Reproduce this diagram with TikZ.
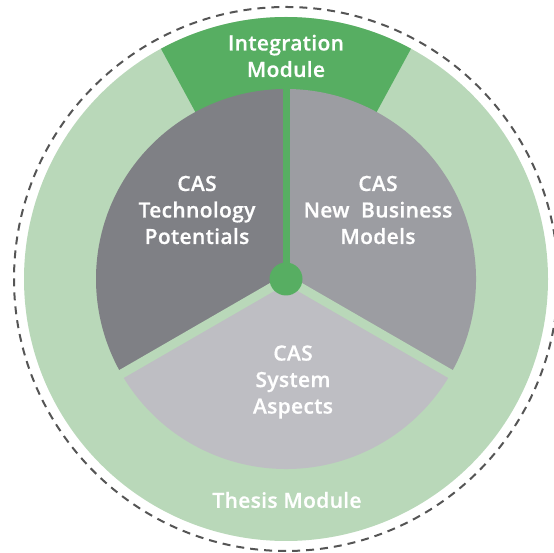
\documentclass[tikz,border=0pt]{standalone}
\usepackage{fontspec}
\setmainfont{Open Sans}[BoldFont={Open Sans Semibold}, BoldFeatures={FakeBold=0.6, LetterSpace=1.5}]
\usetikzlibrary{calc}
\definecolor{ringgreen}{HTML}{B9D8B9}
\definecolor{modgreen}{HTML}{57AE62}
\definecolor{darkpie}{HTML}{7F8085}
\definecolor{midpie}{HTML}{9C9DA2}
\definecolor{lightpie}{HTML}{BEBEC3}
\definecolor{dashgray}{HTML}{555555}
\tikzset{
  lbl/.style={text=white, align=center, font=\bfseries\fontsize{21}{26.5}\selectfont, inner sep=0pt},
}
\begin{document}
\begin{tikzpicture}[x=1pt,y=1pt]
\useasboundingbox (0,0) rectangle (554,553);
\coordinate (c) at (286,274);
% outer ring
\fill[ringgreen] (c) circle (262);
\fill[modgreen] (c) -- ++(61.5:262) arc (61.5:118.5:262) -- cycle;
% pie sectors
\fill[darkpie] (c) -- ++(90:190) arc (90:210:190) -- cycle;
\fill[midpie] (c) -- ++(-30:190) arc (-30:90:190) -- cycle;
\fill[lightpie] (c) -- ++(210:190) arc (210:330:190) -- cycle;
% dividers
\coordinate (d1) at ($(c)+(210:192)$);
\coordinate (d2) at ($(c)+(330:192)$);
\coordinate (d3) at ($(c)+(90:200)$);
\draw[ringgreen, line width=9pt] (c) -- (d1);
\draw[ringgreen, line width=9pt] (c) -- (d2);
\draw[modgreen, line width=7pt] (c) -- (d3);
\node[circle, fill=modgreen, minimum size=33pt, inner sep=0pt] (dot) at (c) {};
% dashed boundary
\draw[dashgray, line width=2pt, dash pattern=on 8pt off 6pt] (c) circle (272);
% labels
\node[lbl] (integ) at (286,497) {Integration\\Module};
\node[lbl] (thesis) at (287,53) {Thesis Module};
\node[lbl] (tech) at (197,343) {CAS\\Technology\\Potentials};
\node[lbl] (biz) at (378,343) {CAS\\New~ Business\\Models};
\node[lbl] (sys) at (293,171) {CAS\\System\\Aspects};
\end{tikzpicture}
\end{document}
